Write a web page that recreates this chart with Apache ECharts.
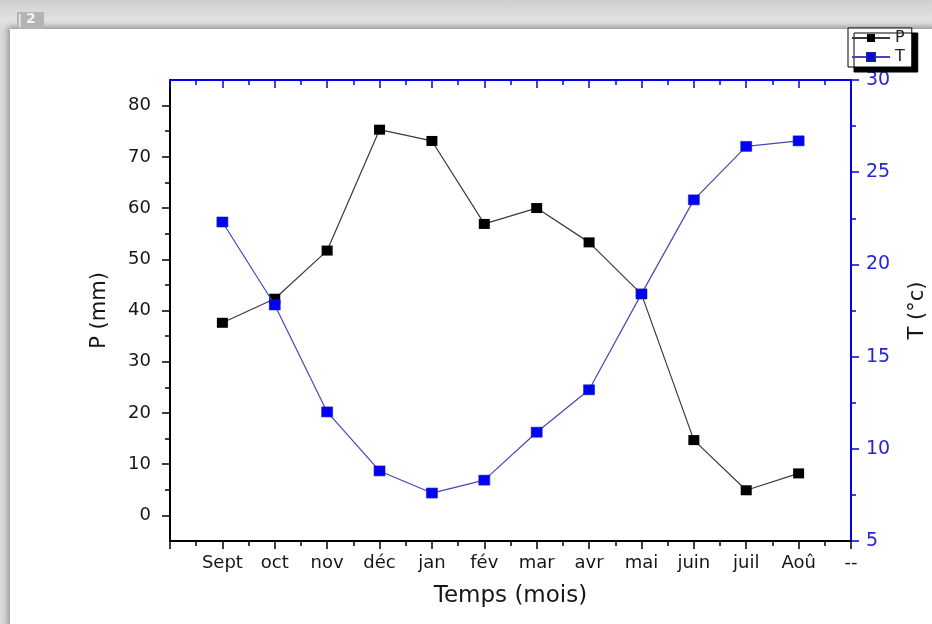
<!DOCTYPE html>
<html><head><meta charset="utf-8">
<script src="https://cdn.jsdelivr.net/npm/echarts@6/dist/echarts.min.js"></script>
<style>
html,body{margin:0;padding:0;}
#wrap{position:relative;width:932px;height:624px;background:linear-gradient(180deg,#cfcfcf 0px,#e2e2e2 20px,#dadada 30px);overflow:hidden}
#panel{position:absolute;left:10px;top:29px;width:930px;height:600px;background:#fff;box-shadow:-2px -2px 6px rgba(0,0,0,0.35)}
#c{position:absolute;left:0;top:0;width:932px;height:624px}
</style>
</head><body>
<div id="wrap"><div id="panel"></div><div id="c"></div></div>
<script>
// ---- data ----
const months = ['Sept','oct','nov','déc','jan','fév','mar','avr','mai','juin','juil','Aoû'];
const xTickLabels = ['', 'Sept','oct','nov','déc','jan','fév','mar','avr','mai','juin','juil','Aoû', '--'];
const precipitation = [37.6, 42.3, 51.7, 75.3, 73.1, 56.9, 60.0, 53.3, 43.2, 14.7, 4.9, 8.2];
const temperature = [22.3, 17.8, 12.0, 8.8, 7.6, 8.3, 10.9, 13.2, 18.4, 23.5, 26.4, 26.7];
const pTickValues = [0, 10, 20, 30, 40, 50, 60, 70, 80];
const pMinorTickValues = [5, 15, 25, 35, 45, 55, 65, 75];

const FONT = 'DejaVu Sans';
const BLUE = '#0000f0';
const BLUE_TXT = '#2626d4';
const TXT = '#161616';

const chart = echarts.init(document.getElementById('c'), null, {renderer: 'canvas'});

const xCommon = {
  type: 'value', min: 0, max: 13, interval: 1,
  splitLine: {show: false},
  minorTick: {show: true, splitNumber: 2, length: 5, lineStyle: {width: 1.5}},
  minorSplitLine: {show: false}
};

chart.setOption({
  animation: false,
  backgroundColor: 'transparent',
  graphic: [
    {type: 'rect', left: 17, top: 12, shape: {width: 27, height: 17}, style: {fill: '#b4b4b4'}},
    {type: 'rect', left: 19, top: 14, shape: {width: 1.5, height: 13}, style: {fill: '#eeeeee'}},
    {type: 'text', left: 26, top: 12, style: {text: '2', fill: '#f4f4f4', font: 'bold 14px ' + FONT}}
  ],
  grid: {left: 170, right: 81, top: 80, bottom: 83, containLabel: false, outerBoundsMode: 'none'},
  legend: {
    data: ['P', 'T'],
    orient: 'vertical',
    left: 848, top: 28,
    padding: [2, 7, 2, 3],
    itemGap: 3,
    itemWidth: 38, itemHeight: 10,
    backgroundColor: '#fff',
    borderColor: '#000', borderWidth: 1,
    shadowColor: '#000', shadowBlur: 0, shadowOffsetX: 6, shadowOffsetY: 5,
    textStyle: {fontFamily: FONT, fontSize: 16, color: '#222'}
  },
  xAxis: [
    Object.assign({}, xCommon, {
      position: 'bottom',
      name: 'Temps (mois)', nameLocation: 'middle', nameGap: 44,
      nameTextStyle: {fontFamily: FONT, fontSize: 23, color: TXT},
      axisLine: {show: true, onZero: false, lineStyle: {color: '#000', width: 2}},
      axisTick: {show: true, inside: false, length: 8, lineStyle: {width: 1.5}},
      axisLabel: {
        show: true, margin: 13, hideOverlap: false,
        fontFamily: FONT, fontSize: 18, color: TXT,
        formatter: function (v) { const k = Math.round(v); return xTickLabels[k] === undefined ? '' : xTickLabels[k]; }
      }
    }),
    Object.assign({}, xCommon, {
      position: 'top',
      axisLine: {show: true, onZero: false, lineStyle: {color: BLUE, width: 2}},
      axisTick: {show: true, inside: true, length: 8, lineStyle: {width: 1.5}},
      axisLabel: {show: false}
    })
  ],
  yAxis: [
    {
      type: 'value', min: -5, max: 85, position: 'left',
      name: 'P (mm)', nameLocation: 'middle', nameGap: 60, nameRotate: 90,
      nameTextStyle: {fontFamily: FONT, fontSize: 21, color: TXT},
      splitLine: {show: false},
      axisLine: {show: true, onZero: false, lineStyle: {color: '#000', width: 2}},
      axisTick: {show: true, inside: false, length: 8, customValues: pTickValues, lineStyle: {width: 1.5}},
      axisLabel: {show: true, margin: 19, customValues: pTickValues, fontFamily: FONT, fontSize: 18, color: TXT}
    },
    {
      type: 'value', min: 5, max: 30, interval: 5, position: 'right',
      name: 'T (°c)', nameLocation: 'middle', nameGap: 56, nameRotate: 90,
      nameTextStyle: {fontFamily: FONT, fontSize: 21, color: TXT},
      splitLine: {show: false},
      axisLine: {show: true, onZero: false, lineStyle: {color: BLUE, width: 2}},
      axisTick: {show: true, inside: false, length: 8, lineStyle: {width: 1.5}},
      minorTick: {show: true, splitNumber: 2, length: 5, lineStyle: {width: 1.5}},
      minorSplitLine: {show: false},
      axisLabel: {show: true, margin: 15, fontFamily: FONT, fontSize: 19, color: BLUE_TXT}
    },
    {
      type: 'value', min: -5, max: 85, position: 'left',
      splitLine: {show: false},
      axisLine: {show: false, onZero: false},
      axisTick: {show: true, inside: false, length: 5, customValues: pMinorTickValues, lineStyle: {color: '#000', width: 1.5}},
      axisLabel: {show: false}
    }
  ],
  series: [
    {
      name: 'P', type: 'line', xAxisIndex: 0, yAxisIndex: 0, z: 3,
      data: precipitation.map((v, i) => [i + 1, v]),
      symbol: 'rect', symbolSize: [11, 10],
      lineStyle: {color: '#3a3a3a', width: 1.2},
      itemStyle: {color: '#000', borderColor: '#000', borderWidth: 0}
    },
    {
      name: 'T', type: 'line', xAxisIndex: 0, yAxisIndex: 1, z: 4,
      data: temperature.map((v, i) => [i + 1, v]),
      symbol: 'rect', symbolSize: [11, 10],
      lineStyle: {color: '#4646b8', width: 1.2},
      itemStyle: {color: '#0000ff', borderColor: '#20208a', borderWidth: 0.6}
    }
  ]
});
</script>
</body></html>
